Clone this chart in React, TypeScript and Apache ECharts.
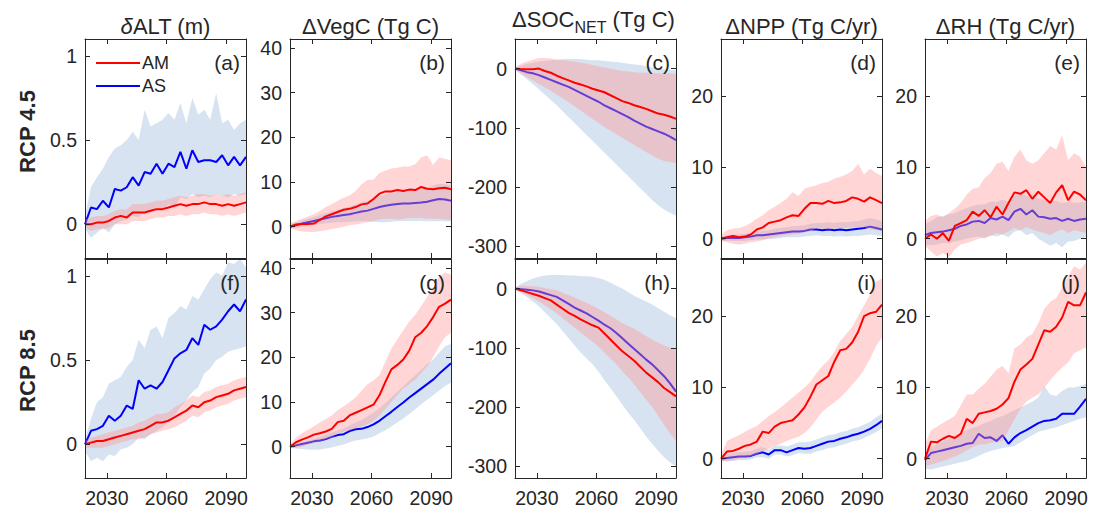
import React, { useEffect, useRef } from 'react';
import * as echarts from 'echarts';

// ---------- data ----------
const years = [2019, 2022, 2025, 2028, 2031, 2034, 2037, 2040, 2043, 2046, 2049, 2052, 2055, 2058, 2061, 2064, 2067, 2070, 2073, 2076, 2079, 2082, 2085, 2088, 2091, 2094, 2097, 2100];
const xTicks = [2030, 2060, 2090];
const titles = ['δALT (m)', 'ΔVegC (Tg C)', 'ΔSOC_NET (Tg C)', 'ΔNPP (Tg C/yr)', 'ΔRH (Tg C/yr)'];
const rowLabels = ['RCP 4.5', 'RCP 8.5'];
const seriesNames = ['AM', 'AS'];

// (a) dALT RCP4.5
const aAM = [0, 0.00, 0.01, 0.01, 0.02, 0.04, 0.05, 0.04, 0.07, 0.07, 0.07, 0.08, 0.09, 0.09, 0.10, 0.11, 0.12, 0.11, 0.12, 0.12, 0.13, 0.12, 0.12, 0.11, 0.12, 0.11, 0.12, 0.13];
const aAMlo = [-0.02, -0.04, -0.03, -0.03, -0.02, 0.0, 0.0, 0.0, 0.02, 0.02, 0.02, 0.03, 0.04, 0.04, 0.05, 0.05, 0.06, 0.05, 0.06, 0.06, 0.07, 0.06, 0.06, 0.05, 0.06, 0.05, 0.06, 0.07];
const aAMhi = [0.03, 0.04, 0.05, 0.05, 0.06, 0.08, 0.09, 0.09, 0.12, 0.12, 0.12, 0.13, 0.14, 0.14, 0.15, 0.16, 0.17, 0.16, 0.17, 0.18, 0.18, 0.17, 0.18, 0.17, 0.18, 0.17, 0.18, 0.19];
const aAS = [0, 0.10, 0.09, 0.14, 0.10, 0.21, 0.20, 0.22, 0.28, 0.23, 0.31, 0.30, 0.36, 0.30, 0.36, 0.34, 0.43, 0.33, 0.44, 0.37, 0.38, 0.38, 0.37, 0.41, 0.35, 0.40, 0.35, 0.40];
const aASlo = [-0.03, -0.08, -0.05, -0.02, -0.05, 0.0, 0.02, 0.03, 0.05, 0.04, 0.08, 0.07, 0.10, 0.08, 0.12, 0.10, 0.16, 0.15, 0.18, 0.16, 0.17, 0.16, 0.18, 0.17, 0.16, 0.18, 0.17, 0.18];
const aAShi = [0.05, 0.22, 0.28, 0.33, 0.40, 0.45, 0.47, 0.50, 0.55, 0.50, 0.68, 0.58, 0.60, 0.62, 0.66, 0.62, 0.72, 0.60, 0.75, 0.65, 0.68, 0.62, 0.78, 0.60, 0.62, 0.56, 0.60, 0.62];

// (b) dVegC RCP4.5
const bAM = [0, 0.5, 0.6, 0.6, 0.7, 1.5, 2.3, 2.8, 3.3, 3.8, 4.0, 4.4, 5.0, 5.2, 6.2, 7.4, 7.9, 7.9, 8.2, 8.0, 8.3, 8.2, 8.9, 8.5, 8.4, 8.6, 8.7, 8.4];
const bAMlo = [-0.3, -0.8, -1.0, -1.2, -1.2, -1.0, -0.8, -0.5, -0.3, 0.0, 0.3, 0.5, 0.8, 1.0, 1.3, 1.6, 1.8, 1.8, 1.6, 1.8, 2.0, 1.9, 2.0, 1.8, 1.8, 1.7, 1.6, 1.5];
const bAMhi = [0.8, 1.3, 1.8, 2.3, 2.8, 3.5, 4.4, 5.0, 5.8, 6.5, 7.0, 8.0, 9.5, 10.5, 10.5, 12.0, 12.5, 13.0, 13.2, 13.5, 13.5, 14.0, 15.5, 16.0, 13.8, 15.5, 15.2, 14.8];
const bAS = [0, 0.3, 0.7, 1.0, 1.3, 1.6, 1.9, 2.2, 2.4, 2.6, 2.8, 3.1, 3.4, 3.6, 4.0, 4.4, 4.7, 4.9, 5.1, 5.2, 5.2, 5.3, 5.4, 5.6, 5.9, 6.2, 6.1, 5.8];
const bASlo = [-0.4, -0.3, 0.0, 0.2, 0.4, 0.6, 0.8, 0.9, 1.0, 1.0, 1.1, 1.2, 1.3, 1.2, 1.1, 1.0, 1.0, 1.1, 1.2, 1.3, 1.3, 1.3, 1.3, 1.2, 1.2, 1.2, 1.2, 1.2];
const bAShi = [0.5, 0.9, 1.4, 1.8, 2.2, 2.6, 3.0, 3.4, 3.8, 4.2, 4.5, 5.0, 5.5, 5.8, 6.3, 6.8, 7.2, 7.5, 7.8, 8.0, 8.2, 8.4, 8.6, 8.8, 9.2, 9.6, 9.5, 9.2];

// (c) dSOC_NET RCP4.5
const cAM = [0, -1, -1, -1, 0, -4, -7, -12, -16, -20, -24, -27, -30, -34, -37, -40, -45, -50, -55, -58, -62, -65, -68, -72, -76, -78, -81, -85];
const cAMlo = [-2, -8, -14, -20, -26, -32, -38, -44, -50, -57, -64, -71, -78, -85, -92, -99, -105, -111, -117, -123, -129, -135, -141, -147, -152, -156, -158, -160];
const cAMhi = [2, 8, 12, 15, 18, 18, 17, 15, 14, 13, 12, 10, 8, 6, 4, 2, 0, -2, -4, -5, -6, -7, -7, -8, -8, -8, -8, -9];
const cAS = [0, -3, -6, -8, -11, -15, -19, -23, -27, -31, -36, -41, -46, -51, -56, -62, -67, -72, -77, -82, -88, -93, -98, -102, -106, -110, -115, -121];
const cASlo = [-2, -10, -18, -26, -35, -44, -53, -62, -72, -82, -92, -102, -112, -122, -132, -142, -152, -162, -172, -182, -192, -202, -212, -222, -231, -238, -244, -248];
const cAShi = [1, 5, 8, 10, 12, 13, 14, 15, 16, 16, 16, 16, 15, 14, 14, 13, 12, 11, 10, 8, 7, 6, 4, 2, 0, -1, -2, -3];

// (d) dNPP RCP4.5
const dAM = [0, 0.2, 0.4, 0.2, 0.3, 0.6, 1.3, 1.6, 2.2, 2.4, 2.6, 3.0, 3.3, 3.2, 4.2, 5.0, 5.0, 4.9, 5.3, 5.0, 5.1, 5.3, 5.8, 5.6, 5.2, 5.8, 5.4, 5.0];
const dAMlo = [-0.3, -0.5, -0.7, -0.8, -0.7, -0.5, -0.4, -0.2, 0.0, 0.2, 0.4, 0.5, 0.6, 0.7, 0.9, 1.0, 1.5, 1.4, 1.3, 1.4, 1.5, 1.5, 1.6, 1.5, 1.6, 1.3, 1.2, 1.2];
const dAMhi = [0.6, 1.2, 1.4, 1.5, 1.8, 2.2, 2.8, 3.3, 4.0, 4.5, 5.0, 5.6, 6.5, 6.0, 7.0, 7.3, 7.5, 7.8, 8.0, 8.4, 8.7, 9.0, 9.5, 10.5, 9.0, 9.8, 9.2, 8.8];
const dAS = [0, 0.1, 0.1, 0.1, 0.2, 0.3, 0.5, 0.5, 0.6, 0.7, 0.8, 0.9, 1.0, 1.0, 1.1, 1.3, 1.3, 1.2, 1.3, 1.2, 1.3, 1.2, 1.3, 1.4, 1.5, 1.7, 1.5, 1.3];
const dASlo = [-0.3, -0.3, -0.3, -0.3, -0.3, -0.2, -0.1, -0.1, 0.0, 0.0, 0.1, 0.2, 0.2, 0.2, 0.3, 0.4, 0.5, 0.4, 0.4, 0.3, 0.4, 0.3, 0.4, 0.4, 0.5, 0.6, 0.5, 0.4];
const dAShi = [0.3, 0.5, 0.6, 0.6, 0.7, 0.8, 1.0, 1.1, 1.2, 1.4, 1.5, 1.6, 1.8, 1.8, 1.9, 2.1, 2.2, 2.2, 2.3, 2.2, 2.3, 2.3, 2.4, 2.5, 2.7, 2.9, 2.7, 2.5];

// (e) dRH RCP4.5
const eAM = [0, 0.6, 0.0, 0.8, -0.3, 1.8, 2.2, 2.6, 3.8, 3.2, 4.0, 3.0, 4.5, 3.4, 5.0, 6.5, 6.3, 6.8, 5.6, 6.6, 5.8, 5.0, 6.5, 7.5, 5.4, 6.6, 6.2, 5.4];
const eAMlo = [-1.0, -1.8, -2.5, -2.0, -2.6, -1.5, -0.8, -0.6, -0.3, 0.0, 0.2, 0.4, 0.8, 0.6, 1.0, 1.5, 1.2, 1.6, 1.3, 1.0, 0.8, 0.5, 1.0, 1.3, 0.8, 1.2, 1.0, 0.8];
const eAMhi = [2.5, 3.2, 3.4, 3.0, 3.6, 4.2, 5.0, 6.2, 7.0, 7.2, 8.5, 9.2, 10.5, 10.8, 9.5, 11.5, 12.5, 11.0, 10.5, 11.0, 12.0, 13.0, 12.5, 14.5, 11.0, 12.0, 11.5, 10.0];
const eAS = [0.5, 0.8, 0.9, 1.0, 1.2, 1.4, 1.8, 2.0, 2.4, 2.5, 2.2, 2.9, 2.7, 3.1, 2.6, 3.8, 4.2, 3.4, 4.0, 3.1, 3.0, 2.8, 2.9, 2.5, 2.8, 2.5, 2.7, 2.8];
const eASlo = [-0.8, -0.9, -0.8, -0.6, -0.6, -0.4, -0.2, 0.0, 0.2, 0.3, 0.0, 0.5, 0.3, 0.6, 0.2, 1.0, 1.2, 0.5, 0.8, 0.0, -0.5, -1.0, -0.6, -1.2, -0.4, -0.3, 0.0, 0.2];
const eAShi = [2.0, 2.5, 3.0, 3.2, 3.4, 3.6, 4.0, 4.3, 4.6, 4.8, 4.8, 5.2, 5.2, 5.5, 5.2, 6.0, 6.5, 6.0, 6.2, 5.6, 5.5, 5.3, 5.3, 5.0, 5.2, 5.0, 5.1, 5.2];

// (f) dALT RCP8.5
const fAM = [0, 0.01, 0.02, 0.02, 0.03, 0.04, 0.05, 0.06, 0.07, 0.08, 0.09, 0.11, 0.13, 0.13, 0.14, 0.16, 0.18, 0.20, 0.23, 0.22, 0.25, 0.26, 0.28, 0.29, 0.30, 0.32, 0.33, 0.34];
const fAMlo = [-0.02, -0.02, -0.02, -0.02, -0.01, 0.0, 0.01, 0.02, 0.03, 0.03, 0.04, 0.06, 0.07, 0.08, 0.09, 0.10, 0.12, 0.14, 0.17, 0.16, 0.19, 0.20, 0.22, 0.23, 0.24, 0.26, 0.27, 0.28];
const fAMhi = [0.02, 0.04, 0.05, 0.06, 0.07, 0.08, 0.09, 0.10, 0.11, 0.13, 0.14, 0.16, 0.18, 0.18, 0.19, 0.22, 0.24, 0.26, 0.29, 0.28, 0.31, 0.32, 0.34, 0.35, 0.36, 0.38, 0.39, 0.40];
const fAS = [0, 0.08, 0.09, 0.11, 0.17, 0.14, 0.17, 0.23, 0.21, 0.38, 0.33, 0.35, 0.33, 0.37, 0.44, 0.51, 0.54, 0.56, 0.63, 0.59, 0.71, 0.68, 0.70, 0.74, 0.79, 0.83, 0.79, 0.86];
const fASlo = [-0.04, -0.10, -0.08, -0.10, -0.06, -0.07, -0.03, -0.02, 0.0, 0.04, 0.03, 0.06, 0.08, 0.10, 0.14, 0.17, 0.22, 0.26, 0.31, 0.34, 0.42, 0.45, 0.50, 0.52, 0.55, 0.56, 0.57, 0.58];
const fAShi = [0.03, 0.15, 0.25, 0.28, 0.36, 0.38, 0.40, 0.46, 0.50, 0.62, 0.57, 0.68, 0.70, 0.63, 0.75, 0.78, 0.82, 0.80, 0.88, 0.86, 0.92, 0.98, 1.02, 1.00, 1.08, 1.07, 1.10, 1.05];

// (g) dVegC RCP8.5
const gAM = [0, 1.0, 1.6, 2.1, 2.7, 3.0, 3.4, 4.0, 5.5, 5.8, 7.0, 7.6, 8.2, 8.8, 9.4, 11.5, 14.5, 17.3, 18.3, 19.5, 21.5, 24.5, 25.5, 27.0, 29.0, 31.3, 32.0, 32.9];
const gAMlo = [-0.3, -0.3, 0.0, 0.5, 0.8, 1.2, 1.6, 2.0, 3.0, 3.3, 3.6, 4.0, 4.5, 5.0, 5.8, 7.0, 8.5, 10.0, 11.5, 13.0, 14.0, 15.0, 16.5, 18.0, 20.0, 22.5, 24.5, 25.5];
const gAMhi = [0.5, 2.0, 3.0, 3.8, 4.6, 5.4, 6.2, 7.0, 8.2, 9.0, 10.0, 11.0, 12.5, 14.0, 14.8, 16.0, 19.0, 22.0, 24.0, 26.0, 28.0, 29.5, 31.5, 33.5, 35.5, 38.0, 39.0, 38.5];
const gAS = [0, 0.3, 0.6, 0.9, 1.2, 1.4, 1.7, 2.2, 2.6, 2.8, 3.5, 3.9, 4.0, 4.4, 5.0, 5.8, 6.8, 7.8, 8.9, 9.9, 11.0, 12.0, 13.0, 14.0, 15.0, 16.3, 17.5, 18.7];
const gASlo = [-0.3, -0.4, -0.5, -0.6, -0.7, -0.6, -0.4, -0.2, 0.2, 0.5, 1.0, 1.4, 1.6, 1.9, 2.3, 3.0, 3.7, 4.5, 5.4, 6.3, 7.3, 8.4, 9.5, 10.5, 11.5, 12.6, 13.6, 14.3];
const gAShi = [0.3, 0.6, 1.0, 1.4, 1.8, 2.2, 2.7, 3.2, 3.7, 4.1, 4.8, 5.4, 6.0, 6.8, 7.6, 8.6, 9.8, 11.0, 12.3, 13.5, 14.8, 16.0, 17.2, 18.5, 19.5, 21.0, 22.5, 23.0];

// (h) dSOC_NET RCP8.5
const hAM = [0, -3, -6, -9, -12, -16, -20, -27, -34, -41, -46, -52, -57, -62, -66, -76, -86, -96, -106, -114, -122, -132, -142, -150, -158, -168, -175, -182];
const hAMlo = [-2, -6, -11, -16, -22, -28, -35, -42, -50, -58, -66, -74, -82, -90, -98, -108, -118, -128, -140, -150, -162, -175, -188, -200, -215, -230, -245, -258];
const hAMhi = [2, 5, 5, 4, 3, 1, -1, -3, -7, -11, -15, -20, -24, -29, -34, -40, -46, -52, -58, -63, -68, -74, -80, -86, -91, -96, -100, -103];
const hAS = [0, -1, -2, -3, -5, -8, -11, -14, -20, -26, -32, -37, -42, -48, -54, -61, -67, -75, -84, -93, -102, -111, -120, -128, -138, -148, -160, -174];
const hASlo = [-2, -8, -14, -22, -30, -40, -50, -60, -72, -84, -96, -108, -118, -128, -140, -155, -168, -182, -196, -210, -222, -236, -250, -262, -274, -285, -294, -300];
const hAShi = [1, 8, 13, 17, 20, 22, 23, 23, 23, 22, 22, 21, 21, 20, 18, 15, 10, 5, 0, -6, -12, -17, -22, -27, -33, -39, -45, -50];

// (i) dNPP RCP8.5
const iAM = [0, 1.0, 1.1, 1.4, 1.8, 2.0, 2.4, 3.8, 3.6, 4.5, 5.0, 5.2, 5.4, 6.2, 7.2, 8.7, 10.4, 11.0, 11.6, 13.6, 15.2, 15.4, 16.3, 17.8, 20.0, 20.4, 20.6, 21.6];
const iAMlo = [-0.4, -0.3, -0.2, 0.0, 0.1, 0.3, 0.6, 1.0, 1.4, 1.8, 2.1, 2.5, 2.8, 3.1, 3.6, 4.4, 5.5, 6.6, 7.3, 7.9, 8.6, 9.4, 10.4, 11.3, 12.5, 14.0, 15.8, 17.0];
const iAMhi = [0.5, 2.5, 2.9, 3.3, 3.8, 4.2, 4.6, 5.3, 6.0, 6.5, 7.2, 7.9, 8.6, 9.3, 10.0, 10.8, 12.0, 13.0, 13.8, 15.0, 16.5, 17.5, 18.5, 20.0, 21.5, 23.0, 24.8, 25.3];
const iAS = [0, 0.1, 0.2, 0.3, 0.3, 0.4, 0.7, 0.9, 0.6, 1.2, 1.2, 0.9, 1.2, 1.5, 1.4, 1.5, 1.8, 2.1, 2.4, 2.5, 2.8, 3.0, 3.3, 3.5, 3.8, 4.2, 4.7, 5.3];
const iASlo = [-0.3, -0.4, -0.3, -0.2, -0.2, -0.1, 0.2, 0.2, 0.0, 0.6, 0.6, 0.3, 0.5, 0.8, 0.7, 0.7, 1.0, 1.2, 1.5, 1.6, 1.9, 2.1, 2.4, 2.6, 2.9, 3.3, 3.7, 4.3];
const iAShi = [0.3, 0.6, 0.8, 0.9, 1.0, 1.1, 1.4, 1.6, 1.3, 1.8, 1.9, 1.7, 2.0, 2.3, 2.3, 2.4, 2.7, 3.0, 3.3, 3.4, 3.7, 3.9, 4.2, 4.4, 4.8, 5.2, 5.8, 6.3];

// (j) dRH RCP8.5
const jAM = [0, 2.4, 2.3, 2.8, 3.2, 2.9, 3.5, 5.6, 5.0, 6.3, 6.5, 6.7, 7.0, 7.6, 8.5, 10.8, 12.5, 13.2, 14.0, 16.0, 18.0, 17.8, 18.5, 19.8, 22.0, 21.5, 21.5, 23.3];
const jAMlo = [-1.0, -0.8, -0.6, -0.3, 0.0, 0.3, 0.7, 1.2, 1.6, 2.0, 2.0, 2.2, 2.4, 2.5, 4.0, 5.5, 7.0, 8.0, 8.6, 9.0, 10.0, 11.0, 12.0, 12.8, 13.5, 14.8, 15.2, 15.6];
const jAMhi = [2.0, 4.0, 4.5, 5.0, 5.5, 6.0, 7.5, 9.0, 9.0, 9.8, 10.5, 11.5, 12.5, 13.0, 12.0, 15.5, 16.0, 17.0, 17.5, 19.0, 21.0, 22.0, 22.5, 24.0, 25.5, 27.0, 26.5, 27.5];
const jAS = [-0.2, 0.8, 1.0, 1.2, 1.4, 1.6, 1.8, 2.1, 2.2, 3.5, 2.9, 3.0, 2.5, 3.3, 2.1, 3.0, 3.6, 4.0, 4.5, 5.0, 5.3, 5.4, 5.6, 6.3, 6.3, 6.3, 7.3, 8.4];
const jASlo = [-1.4, -1.5, -1.3, -1.1, -0.9, -0.7, -0.5, -0.3, 0.0, 0.4, 0.8, 1.1, 1.3, 1.5, 1.6, 1.8, 2.3, 2.8, 3.3, 3.8, 4.0, 4.2, 4.4, 4.7, 5.0, 5.3, 5.6, 5.8];
const jAShi = [0.8, 1.5, 2.0, 2.4, 2.8, 3.2, 3.6, 4.0, 4.3, 4.6, 5.0, 5.3, 5.7, 6.0, 6.4, 6.8, 7.2, 7.6, 8.0, 8.6, 10.2, 9.0, 8.8, 9.5, 10.0, 10.0, 10.2, 10.5];

// y-axis ticks per column
const altTicks = [0, 0.5, 1];
const vegTicks = [0, 10, 20, 30, 40];
const socTicks = [-300, -200, -100, 0];
const fluxTicks = [0, 10, 20];

// ---------- styling / layout ----------
const FONT = "'Liberation Sans', Arial, Helvetica, sans-serif";
const INK = '#262626';
const RED = '#ff0000';
const BLUE = '#0000ff';
const RED_BAND = 'rgba(255,150,150,0.40)';
const BLUE_BAND = 'rgba(140,175,215,0.35)';
const colLeft = [85, 290, 515, 721, 925];
const rowTop = [39, 259];
const PW = 161;
const PH = 219;

interface Panel {
  letter: string; row: number; col: number; yMin: number; yMax: number; yTicks: number[];
  am: number[]; amLo: number[]; amHi: number[]; as: number[]; asLo: number[]; asHi: number[];
}

const panels: Panel[] = [
  { letter: '(a)', row: 0, col: 0, yMin: -0.2, yMax: 1.1, yTicks: altTicks, am: aAM, amLo: aAMlo, amHi: aAMhi, as: aAS, asLo: aASlo, asHi: aAShi },
  { letter: '(b)', row: 0, col: 1, yMin: -7, yMax: 42, yTicks: vegTicks, am: bAM, amLo: bAMlo, amHi: bAMhi, as: bAS, asLo: bASlo, asHi: bAShi },
  { letter: '(c)', row: 0, col: 2, yMin: -320, yMax: 50, yTicks: socTicks, am: cAM, amLo: cAMlo, amHi: cAMhi, as: cAS, asLo: cASlo, asHi: cAShi },
  { letter: '(d)', row: 0, col: 3, yMin: -2.7, yMax: 28, yTicks: fluxTicks, am: dAM, amLo: dAMlo, amHi: dAMhi, as: dAS, asLo: dASlo, asHi: dAShi },
  { letter: '(e)', row: 0, col: 4, yMin: -2.7, yMax: 28, yTicks: fluxTicks, am: eAM, amLo: eAMlo, amHi: eAMhi, as: eAS, asLo: eASlo, asHi: eAShi },
  { letter: '(f)', row: 1, col: 0, yMin: -0.2, yMax: 1.1, yTicks: altTicks, am: fAM, amLo: fAMlo, amHi: fAMhi, as: fAS, asLo: fASlo, asHi: fAShi },
  { letter: '(g)', row: 1, col: 1, yMin: -7, yMax: 42, yTicks: vegTicks, am: gAM, amLo: gAMlo, amHi: gAMhi, as: gAS, asLo: gASlo, asHi: gAShi },
  { letter: '(h)', row: 1, col: 2, yMin: -320, yMax: 50, yTicks: socTicks, am: hAM, amLo: hAMlo, amHi: hAMhi, as: hAS, asLo: hASlo, asHi: hAShi },
  { letter: '(i)', row: 1, col: 3, yMin: -2.7, yMax: 28, yTicks: fluxTicks, am: iAM, amLo: iAMlo, amHi: iAMhi, as: iAS, asLo: iASlo, asHi: iAShi },
  { letter: '(j)', row: 1, col: 4, yMin: -2.7, yMax: 28, yTicks: fluxTicks, am: jAM, amLo: jAMlo, amHi: jAMhi, as: jAS, asLo: jASlo, asHi: jAShi },
];

function pairs(vals: number[]) {
  return years.map((y, k) => [y, vals[k]]);
}

function bandSeries(i: number, name: string, lo: number[], hi: number[], fill: string, z: number) {
  return {
    type: 'custom',
    name,
    xAxisIndex: 2 * i,
    yAxisIndex: 2 * i,
    silent: true,
    clip: true,
    z,
    data: [[years[0], 0]],
    encode: { x: 0, y: 1 },
    renderItem: (_params: any, api: any) => {
      const n = Math.min(years.length, lo.length, hi.length);
      const pts: number[][] = [];
      for (let k = 0; k < n; k++) pts.push(api.coord([years[k], hi[k]]));
      for (let k = n - 1; k >= 0; k--) pts.push(api.coord([years[k], lo[k]]));
      return { type: 'polygon', shape: { points: pts }, style: { fill, stroke: 'none' } };
    },
  };
}

function lineSeries(i: number, name: string, vals: number[], color: string, z: number) {
  return {
    type: 'line',
    name,
    xAxisIndex: 2 * i,
    yAxisIndex: 2 * i,
    data: pairs(vals),
    showSymbol: false,
    symbol: 'none',
    color,
    itemStyle: { color },
    lineStyle: { color, width: 2 },
    z,
    silent: true,
  };
}

const plainNumber = (v: number) => String(v);

function buildOption() {
  const grid: any[] = [];
  const xAxis: any[] = [];
  const yAxis: any[] = [];
  const series: any[] = [];
  const axisLine = { show: true, onZero: false, lineStyle: { color: INK, width: 1 } };
  const labelStyle = { fontSize: 19.5, color: INK, fontFamily: FONT };

  panels.forEach((p, i) => {
    grid.push({ left: colLeft[p.col], top: rowTop[p.row], width: PW, height: PH, containLabel: false, outerBoundsMode: 'none' });
    const xBase = {
      gridIndex: i, type: 'value', min: years[0], max: years[years.length - 1],
      axisLine, splitLine: { show: false }, z: 10,
      axisTick: { show: true, inside: true, length: 5, customValues: xTicks, lineStyle: { color: INK } },
    };
    xAxis.push({ ...xBase, position: 'bottom', axisLabel: { show: p.row === 1, customValues: xTicks, margin: 10, formatter: plainNumber, ...labelStyle } });
    xAxis.push({ ...xBase, position: 'top', axisLabel: { show: false } });
    const yBase = {
      gridIndex: i, type: 'value', min: p.yMin, max: p.yMax,
      axisLine, splitLine: { show: false }, z: 10,
      axisTick: { show: true, inside: true, length: 5, customValues: p.yTicks, lineStyle: { color: INK } },
    };
    yAxis.push({ ...yBase, position: 'left', axisLabel: { show: true, customValues: p.yTicks, margin: 8, formatter: plainNumber, ...labelStyle } });
    yAxis.push({ ...yBase, position: 'right', axisLabel: { show: false } });

    series.push(bandSeries(i, 'AS range', p.asLo, p.asHi, BLUE_BAND, 2));
    series.push(lineSeries(i, seriesNames[1], p.as, BLUE, 3));
    series.push(bandSeries(i, 'AM range', p.amLo, p.amHi, RED_BAND, 4));
    series.push(lineSeries(i, seriesNames[0], p.am, RED, 5));
  });

  const textBase = { fontFamily: FONT, fill: INK };
  const graphic: any[] = [];
  const colCenter = (c: number) => colLeft[c] + PW / 2;

  graphic.push({ type: 'text', x: colCenter(0), y: 26, style: { text: '{i|δ}{n|' + titles[0].slice(1) + '}', align: 'center', verticalAlign: 'middle', rich: { i: { ...textBase, fontSize: 22, fontStyle: 'italic' }, n: { ...textBase, fontSize: 22 } } } });
  graphic.push({ type: 'text', x: colCenter(1), y: 26, style: { ...textBase, text: titles[1], fontSize: 22, align: 'center', verticalAlign: 'middle' } });
  const socParts = titles[2].split('_');
  const netParts = socParts[1].split(' ');
  graphic.push({
    type: 'text', x: colCenter(2) - 2, y: 22,
    style: {
      text: '{a|' + socParts[0] + '}{b|' + netParts[0] + '}{a| ' + netParts.slice(1).join(' ') + '}',
      align: 'center', verticalAlign: 'middle',
      rich: {
        a: { ...textBase, fontSize: 22, lineHeight: 27, verticalAlign: 'top' },
        b: { ...textBase, fontSize: 16, verticalAlign: 'bottom' },
      },
    },
  });
  graphic.push({ type: 'text', x: colCenter(3), y: 26, style: { ...textBase, text: titles[3], fontSize: 22, align: 'center', verticalAlign: 'middle' } });
  graphic.push({ type: 'text', x: colCenter(4), y: 26, style: { ...textBase, text: titles[4], fontSize: 22, align: 'center', verticalAlign: 'middle' } });

  rowLabels.forEach((t, r) => {
    graphic.push({ type: 'text', x: 27, y: rowTop[r] + PH / 2 + (r === 0 ? -17 : 2), rotation: Math.PI / 2, style: { ...textBase, text: t, fontSize: 22, fontWeight: 'bold', align: 'center', verticalAlign: 'middle' } });
  });

  panels.forEach((p) => {
    graphic.push({ type: 'text', x: colLeft[p.col] + PW - 6, y: rowTop[p.row] + 23, z: 20, style: { ...textBase, text: p.letter, fontSize: 21, align: 'right', verticalAlign: 'middle' } });
  });

  return {
    animation: false,
    backgroundColor: '#ffffff',
    grid,
    xAxis,
    yAxis,
    series,
    graphic,
    legend: {
      left: 96, top: 53, orient: 'vertical', icon: 'rect', itemWidth: 44, itemHeight: 2, itemGap: 3,
      padding: 0, selectedMode: false, data: [seriesNames[0], seriesNames[1]],
      textStyle: { fontSize: 18, lineHeight: 20, fontFamily: FONT, color: INK, padding: [0, 0, 0, -3] },
    },
  };
}

export default function App() {
  const ref = useRef<HTMLDivElement | null>(null);
  useEffect(() => {
    if (!ref.current) return;
    const chart = echarts.init(ref.current, undefined, { renderer: 'svg' });
    chart.setOption(buildOption() as any);
    return () => chart.dispose();
  }, []);
  return <div ref={ref} style={{ position: 'fixed', left: 0, top: 0, width: 1103, height: 511, background: '#fff' }} />;
}
